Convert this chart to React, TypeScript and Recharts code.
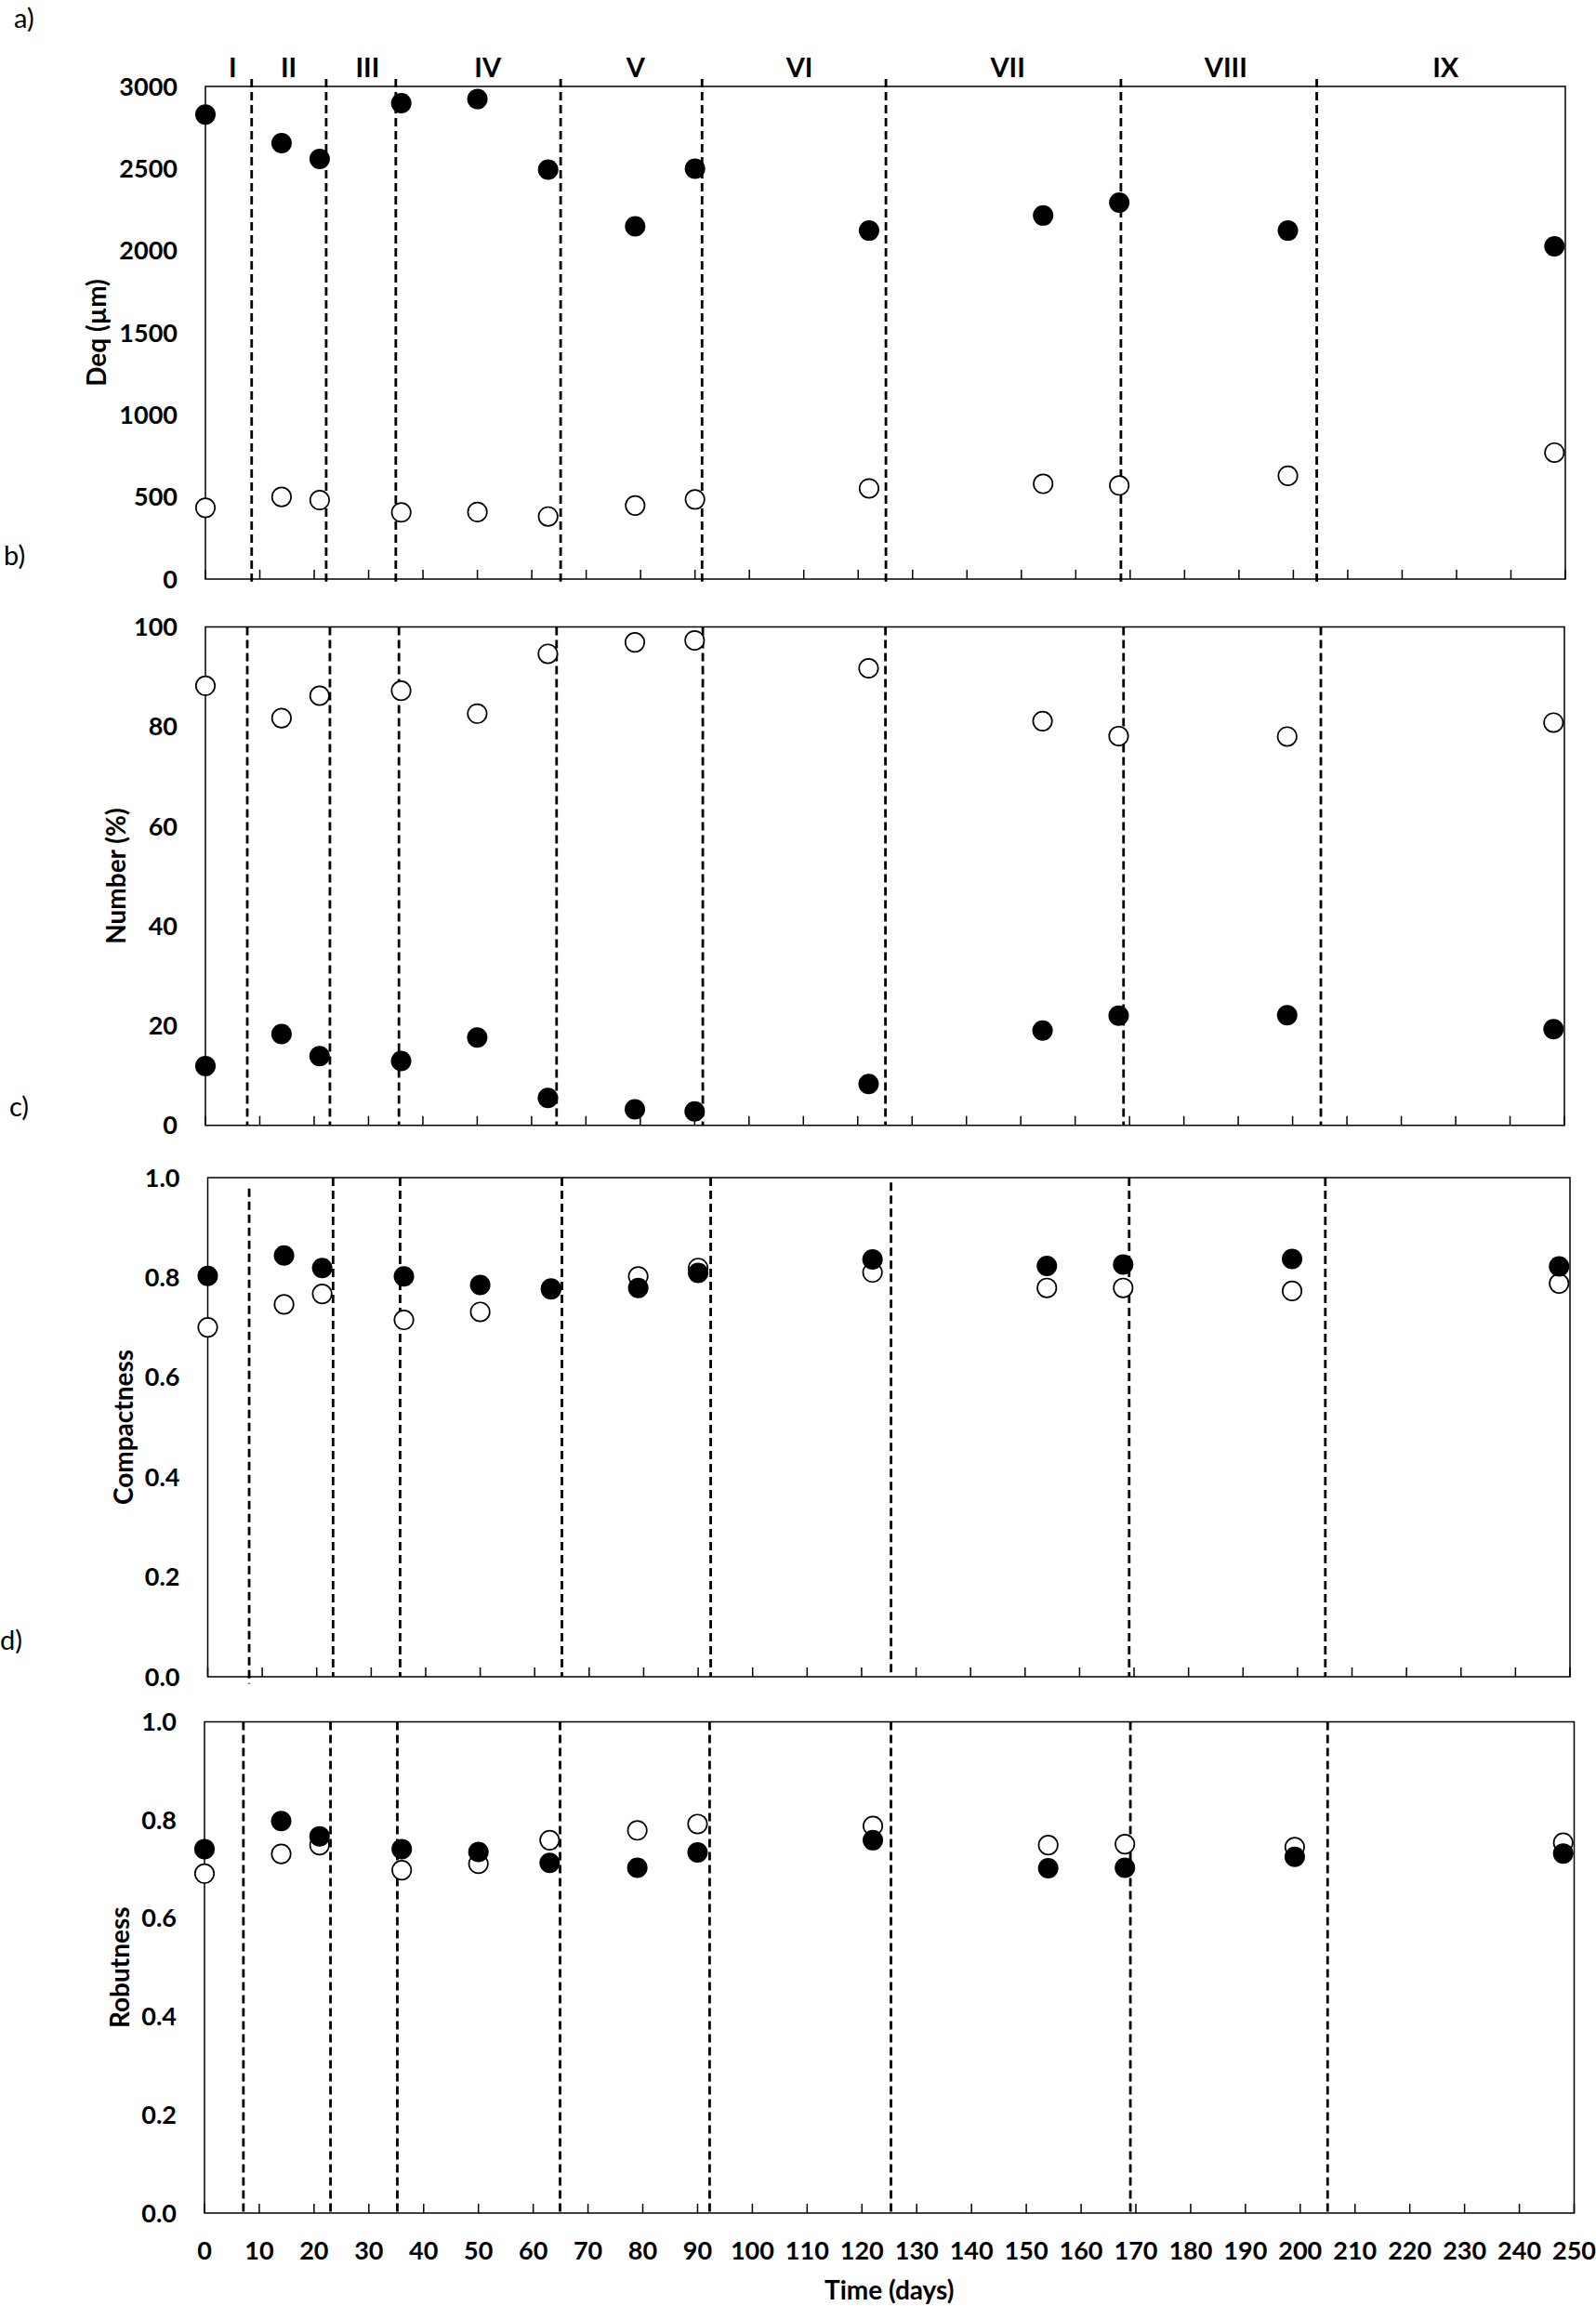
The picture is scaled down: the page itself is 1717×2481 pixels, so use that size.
import React from 'react';
import {
  ScatterChart,
  Scatter,
  XAxis,
  YAxis,
  ReferenceLine,
  ReferenceArea,
  ReferenceDot,
} from 'recharts';

const FONT = 'Lato, "Open Sans", sans-serif';

// sampling days (same for every panel)
const days = [0, 14, 21, 36, 50, 63, 79, 90, 122, 154, 168, 199, 248];

// a) equivalent diameter
const deqFilled = [2829, 2655, 2559, 2898, 2923, 2493, 2148, 2499, 2122, 2214, 2293, 2122, 2026];
const deqOpen = [434, 500, 481, 406, 408, 381, 448, 485, 552, 580, 570, 629, 770];

// b) number fraction
const numberFilled = [11.9, 18.3, 13.9, 12.9, 17.6, 5.5, 3.2, 2.8, 8.3, 19.0, 22.0, 22.1, 19.3];
const numberOpen = [88.2, 81.7, 86.2, 87.2, 82.6, 94.6, 96.9, 97.3, 91.7, 81.1, 78.1, 78.0, 80.8];

// c) compactness
const compactFilled = [0.803, 0.844, 0.819, 0.802, 0.785, 0.778, 0.779, 0.809, 0.836, 0.823, 0.826, 0.837, 0.822];
const compactOpen = [0.7, 0.746, 0.767, 0.715, 0.731, 0.776, 0.802, 0.819, 0.81, 0.779, 0.779, 0.773, 0.788];

// d) robustness
const robustFilled = [0.741, 0.798, 0.767, 0.741, 0.735, 0.713, 0.703, 0.734, 0.759, 0.702, 0.703, 0.725, 0.732];
const robustOpen = [0.691, 0.731, 0.749, 0.698, 0.711, 0.759, 0.779, 0.792, 0.788, 0.749, 0.751, 0.745, 0.754];

// phase boundaries (dashed lines), as drawn in each panel
const boundsA = [8.5, 22.2, 35, 65.3, 91.3, 125.1, 168.3, 204.3];
const boundsB = [7.7, 22.9, 35.6, 64.6, 91.5, 125.1, 168.9, 205.2];
const boundsC = [7.6, 23.0, 35.3, 65.0, 92.3, 125.4, 169.1, 205.1];
const boundsD = [7.1, 23.0, 35.2, 64.9, 92.2, 125.3, 169.0, 205.0];

// phase names above panel a
const phaseNames = ['I', 'II', 'III', 'IV', 'V', 'VI', 'VII', 'VIII', 'IX'];
const phaseNameDays = [5.0, 15.3, 29.8, 51.9, 79.1, 109.2, 147.5, 187.6, 228];

const xTicks = [0, 10, 20, 30, 40, 50, 60, 70, 80, 90, 100, 110, 120, 130, 140, 150, 160, 170, 180, 190, 200, 210, 220, 230, 240, 250];
const deqTicks = [0, 500, 1000, 1500, 2000, 2500, 3000];
const numberTicks = [0, 20, 40, 60, 80, 100];
const ratioTicks = [0, 0.2, 0.4, 0.6, 0.8, 1.0];

const toPoints = (vals: number[]) => days.map((d, i) => ({ day: d, v: vals[i] }));

const TICK_MARGIN = 4;
const CHART_W = 1717;

const FilledDot = (p: any) => <circle cx={p.cx} cy={p.cy} r={11} fill="#000" />;
const OpenDot = (p: any) => (
  <circle cx={p.cx} cy={p.cy} r={10.2} fill="#fff" stroke="#000" strokeWidth={1.7} />
);

interface PanelProps {
  top: number;
  height: number;
  margin: { top: number; right: number; bottom: number; left: number };
  xAxisHeight: number;
  yDomain: [number, number];
  yTicks: number[];
  yFormat: (v: number) => string;
  title: string;
  titleX: number;
  filled: number[];
  open: number[];
  bounds: number[];
  spans?: ([number, number] | null)[];
  showXLabels?: boolean;
  phases?: boolean;
}

function Panel(props: PanelProps) {
  const { top, height, margin, xAxisHeight, yDomain, yTicks, yFormat, title, titleX } = props;
  const plotTop = margin.top;
  const plotH = height - margin.top - margin.bottom - xAxisHeight;
  const plotLeft = margin.left + 80;
  const plotW = CHART_W - margin.left - 80 - margin.right;

  const renderXTick = (p: any) => {
    const axisY = p.y - TICK_MARGIN;
    return (
      <g>
        <line x1={p.x} x2={p.x} y1={axisY} y2={axisY - 10} stroke="#000" strokeWidth={1.5} />
        {props.showXLabels && (
          <text
            x={p.x}
            y={axisY + 39}
            textAnchor="middle"
            dominantBaseline="central"
            fill="#000"
            fontSize={27}
            fontWeight={700}
            fontFamily={FONT}
          >
            {p.payload.value}
          </text>
        )}
      </g>
    );
  };

  return (
    <div style={{ position: 'absolute', left: 0, top }}>
      <ScatterChart width={CHART_W} height={height} margin={margin}>
        <XAxis
          type="number"
          dataKey="day"
          domain={[0, 250]}
          ticks={xTicks}
          interval={0}
          height={xAxisHeight}
          axisLine={false}
          tickLine={false}
          tickSize={0}
          tickMargin={TICK_MARGIN}
          tick={renderXTick}
          label={
            props.showXLabels
              ? {
                  content: () => (
                    <text
                      x={plotLeft + plotW / 2}
                      y={plotTop + plotH + 82}
                      textAnchor="middle"
                      dominantBaseline="central"
                      fill="#000"
                      fontSize={28}
                      fontWeight={700}
                      fontFamily={FONT}
                    >
                      Time (days)
                    </text>
                  ),
                }
              : undefined
          }
        />
        <YAxis
          type="number"
          dataKey="v"
          domain={yDomain}
          ticks={yTicks}
          interval={0}
          width={80}
          axisLine={false}
          tickLine={false}
          tickSize={0}
          tickMargin={30}
          tickFormatter={yFormat}
          tick={{ fill: '#000', fontSize: 27, fontWeight: 700, fontFamily: FONT }}
          label={{
            content: () => (
              <text
                transform={`translate(${titleX}, ${plotTop + plotH / 2}) rotate(-90)`}
                textAnchor="middle"
                dominantBaseline="central"
                fill="#000"
                fontSize={28}
                fontWeight={700}
                fontFamily={FONT}
              >
                {title}
              </text>
            ),
          }}
        />
        <ReferenceArea
          x1={0}
          x2={250}
          y1={yDomain[0]}
          y2={yDomain[1]}
          fill="none"
          stroke="#000"
          strokeWidth={1.5}
          ifOverflow="visible"
        />
        {props.bounds.map((d, i) => {
          const span = props.spans?.[i];
          const y1 = span ? span[0] : yDomain[1];
          const y2 = span ? span[1] : yDomain[0];
          return (
            <ReferenceLine
              key={`b${i}`}
              segment={[
                { x: d, y: y1 },
                { x: d, y: y2 },
              ]}
              stroke="#000"
              strokeWidth={2.8}
              strokeDasharray="9 5"
              ifOverflow="visible"
            />
          );
        })}
        {props.phases &&
          phaseNames.map((name, i) => (
            <ReferenceDot
              key={name}
              x={phaseNameDays[i]}
              y={3120}
              r={0}
              ifOverflow="visible"
              shape={(p: any) => (
                <text
                  x={p.cx}
                  y={p.cy}
                  textAnchor="middle"
                  dominantBaseline="central"
                  fill="#000"
                  fontSize={29}
                  fontWeight={700}
                  fontFamily={FONT}
                >
                  {name}
                </text>
              )}
            />
          ))}
        <Scatter data={toPoints(props.open)} shape={OpenDot} isAnimationActive={false} />
        <Scatter data={toPoints(props.filled)} shape={FilledDot} isAnimationActive={false} />
      </ScatterChart>
    </div>
  );
}

const panelLetter = (text: string, left: number, centerY: number) => (
  <div
    key={text}
    style={{
      position: 'absolute',
      left,
      top: centerY - 17,
      height: 34,
      lineHeight: '34px',
      fontFamily: FONT,
      fontSize: 29,
      color: '#000',
    }}
  >
    {text}
  </div>
);

export default function App() {
  const fmt1 = (v: number) => v.toFixed(1);
  const fmt0 = (v: number) => String(v);
  const spanA = boundsA.map(() => [3045, -15] as [number, number]);
  const spanC: ([number, number] | null)[] = boundsC.map((_, i) =>
    i === 0 ? [0.978, -0.014] : i === 5 ? [0.99, 0] : null
  );

  return (
    <div
      style={{
        position: 'absolute',
        left: 0,
        top: 0,
        width: 1717,
        height: 2481,
        background: '#fff',
        overflow: 'hidden',
      }}
    >
      <Panel
        top={0}
        height={645}
        margin={{ top: 93, right: 33, bottom: 12, left: 141 }}
        xAxisHeight={10}
        yDomain={[0, 3000]}
        yTicks={deqTicks}
        yFormat={fmt0}
        title="Deq (µm)"
        titleX={103}
        filled={deqFilled}
        open={deqOpen}
        bounds={boundsA}
        spans={spanA}
        phases
      />
      <Panel
        top={645}
        height={590}
        margin={{ top: 29.5, right: 34, bottom: 14.3, left: 141 }}
        xAxisHeight={10}
        yDomain={[0, 100]}
        yTicks={numberTicks}
        yFormat={fmt0}
        title="Number (%)"
        titleX={124}
        filled={numberFilled}
        open={numberOpen}
        bounds={boundsB}
      />
      <Panel
        top={1235}
        height={590}
        margin={{ top: 32, right: 28, bottom: 11, left: 143.5 }}
        xAxisHeight={10}
        yDomain={[0, 1]}
        yTicks={ratioTicks}
        yFormat={fmt1}
        title="Compactness"
        titleX={132}
        filled={compactFilled}
        open={compactOpen}
        bounds={boundsC}
        spans={spanC}
      />
      <Panel
        top={1825}
        height={656}
        margin={{ top: 27.5, right: 23.5, bottom: 20, left: 140 }}
        xAxisHeight={80}
        yDomain={[0, 1]}
        yTicks={ratioTicks}
        yFormat={fmt1}
        title="Robutness"
        titleX={128}
        filled={robustFilled}
        open={robustOpen}
        bounds={boundsD}
        showXLabels
      />
      {panelLetter('a)', 15, 19)}
      {panelLetter('b)', 4, 597)}
      {panelLetter('c)', 10, 1190)}
      {panelLetter('d)', 0, 1764)}
    </div>
  );
}
